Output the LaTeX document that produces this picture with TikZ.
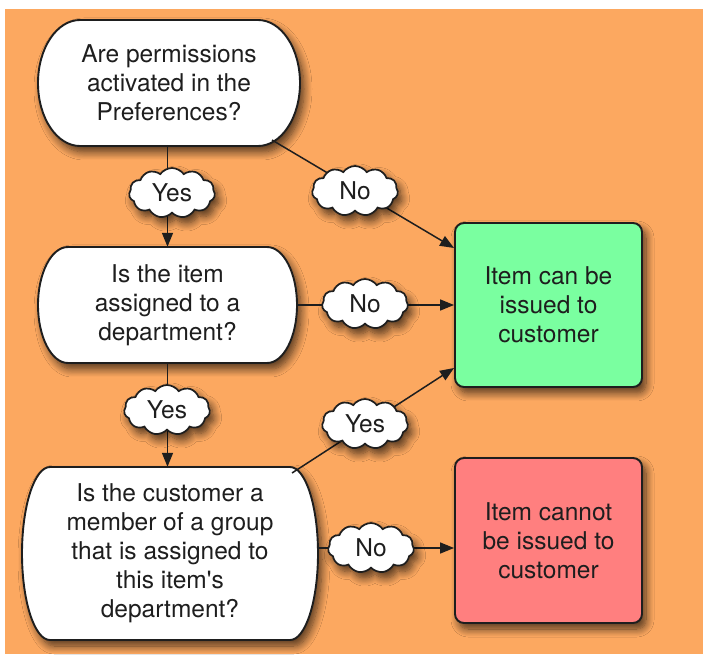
\documentclass[tikz,border=0pt]{standalone}
\usepackage{fontspec}
\setmainfont{TeX Gyre Heros}
\usetikzlibrary{shapes.symbols,shadows.blur,arrows.meta,calc}
\definecolor{bgorange}{RGB}{252,168,96}
\definecolor{okgreen}{RGB}{122,255,160}
\definecolor{nored}{RGB}{255,127,127}
\definecolor{ink}{RGB}{30,30,30}
\begin{document}
\begin{tikzpicture}[x=1pt,y=1pt,
  txt/.style={font=\fontsize{24.5}{29}\selectfont, text=ink, align=center},
  shad/.style={blur shadow={shadow xshift=4pt,shadow yshift=-6pt,shadow opacity=68,shadow blur radius=8pt,shadow blur steps=10}},
  outline/.style={draw=ink,line width=1.9pt},
  result/.style={txt, outline, shad, rounded corners=9pt, minimum width=187pt, minimum height=164pt},
  tag/.style={cloud, cloud puffs=11, cloud puff arc=110, aspect=2, draw=ink, line width=1.7pt, fill=white, shad, txt, inner sep=1pt, minimum width=86pt, minimum height=50pt},
  link/.style={draw=ink, line width=1.5pt, -{Triangle[length=14pt,width=11pt]}}]
\useasboundingbox (0,0) rectangle (703,657);
\fill[white] (0,0) rectangle (703,657);
\fill[bgorange] (5,3) rectangle (703,648);

% question shapes
\path[outline, fill=white, shad] (80,637) -- (258,637)
  arc[start angle=90,end angle=-90,x radius=42pt,y radius=63pt] -- (80,511)
  arc[start angle=270,end angle=90,x radius=42pt,y radius=63pt] -- cycle;
\path[outline, fill=white, shad] (68,410) -- (267,410)
  arc[start angle=90,end angle=-90,x radius=30pt,y radius=58pt] -- (68,294)
  arc[start angle=270,end angle=90,x radius=30pt,y radius=58pt] -- cycle;
\path[outline, fill=white, shad] (50,190) -- (290,190)
  arc[start angle=90,end angle=-90,x radius=28pt,y radius=86.5pt] -- (50,17)
  arc[start angle=270,end angle=90,x radius=28pt,y radius=86.5pt] -- cycle;

\node[txt, minimum width=262pt, minimum height=126pt] (q1) at (169,574)
  {Are permissions\\activated in the\\Preferences?};
\node[txt, minimum width=259pt, minimum height=116pt] (q2) at (167.5,352)
  {Is the item\\assigned to a\\department?};
\node[txt, minimum width=296pt, minimum height=173pt] (q3) at (170,103.5)
  {Is the customer a\\member of a group\\that is assigned to\\this item\textquotesingle s\\department?};

\node[result, fill=okgreen] (g) at (548.5,352) {Item can be\\issued to\\customer};
\node[result, fill=nored, minimum height=165pt] (r) at (548.5,116.5) {Item cannot\\be issued to\\customer};

\coordinate (q1r) at (272,517);
\coordinate (g1) at ([yshift=57pt]g.west);
\coordinate (q3r) at (292,184);
\coordinate (g2) at ([yshift=-63pt]g.west);
\coordinate (r1) at ([yshift=-7.5pt]r.west);

\draw[link] (q1.south -| q2.north) -- (q2.north);
\draw[link] (q1r) -- (g1);
\draw[link] (q2.east) -- (g.west);
\draw[link] (q2.south) -- (q2.south |- q3.north);
\draw[link] (q3r) -- (g2);
\draw[link] (q3.east |- r1) -- (r1);

\node[tag] (y1) at (172,464) {Yes};
\node[tag] (n1) at (355,466) {No};
\node[tag] (n2) at (365,353) {No};
\node[tag] (y2) at (167,247) {Yes};
\node[tag] (y3) at (365,233) {Yes};
\node[tag] (n3) at (371,109) {No};
\end{tikzpicture}
\end{document}
